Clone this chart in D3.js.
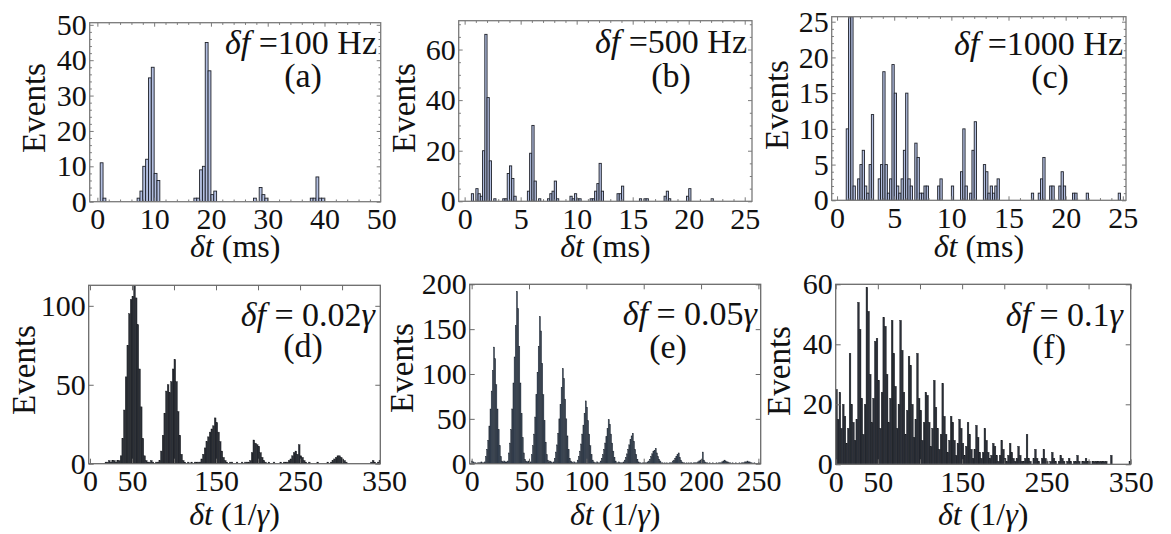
<!DOCTYPE html>
<html lang="en">

<head>
	<title>Events histograms</title>
	<meta charset="utf-8">
	<script src="https://d3js.org/d3.v7.min.js"></script>
	<style>
		body { margin: 0; background: #fff; }
	</style>
</head>

<body>
	<script>
		// ---- Data ----
		// (a) df = 100 Hz, bins of 0.5 ms
		const aBins = [0.5, 1, 7, 7.5, 8, 8.5, 9, 9.5, 10, 10.5, 17, 17.5, 18, 18.5, 19, 19.5, 20, 20.5,
			27.5, 28.5, 29, 29.5, 37.5, 38, 38.5, 39, 39.5];
		const aCounts = [11, 1, 1, 3, 10, 12, 35, 38, 8, 6, 1, 1, 9, 10, 45, 37, 2, 3,
			1, 4, 2, 1, 1, 1, 7, 1, 1];

		// (b) df = 500 Hz, bins of 0.2 ms
		const bBins = [0.6, 1.0, 1.2, 1.4, 1.6, 1.8, 2.0, 2.2, 2.6, 3.4, 3.6, 3.8, 4.0, 4.2, 4.4,
			5.6, 5.8, 6.0, 6.2, 6.6, 7.4, 7.6, 7.8, 8.0, 8.2, 9.4, 9.6, 9.8, 10.0, 10.2,
			11.2, 11.4, 11.6, 11.8, 12.0, 12.2, 13.6, 13.8, 14.0, 15.6, 16.0, 16.2,
			17.8, 18.0, 18.2, 19.8, 20.0, 22.0];
		const bCounts = [3, 5, 3, 2, 20, 66, 41, 16, 1, 1, 1, 11, 14, 9, 2,
			4, 19, 30, 8, 1, 1, 3, 4, 8, 1, 2, 1, 3, 1, 1,
			1, 1, 4, 7, 15, 4, 3, 3, 6, 1, 1, 1,
			2, 4, 1, 2, 5, 1];

		// (c) df = 1000 Hz, bins of 0.2 ms
		const cBins = [0.8, 1.0, 1.2, 1.4, 1.8, 2.0, 2.2, 2.4, 2.6, 2.8, 3.0,
			3.6, 3.8, 4.0, 4.2, 4.4, 4.6, 4.8, 5.0, 5.2, 5.4, 5.6, 5.8, 6.0, 6.2, 6.4,
			6.8, 7.0, 7.2, 7.4, 7.6, 7.8, 8.8, 9.0, 10.0, 10.8, 11.0, 11.2, 11.6, 11.8, 12.0,
			12.8, 13.0, 13.2, 13.4, 13.6, 13.8, 14.0, 17.0, 17.6, 17.8, 18.0, 18.6, 18.8,
			19.4, 19.6, 19.8, 20.6, 20.8, 21.8, 24.6];
		const cCounts = [10, 27, 27, 2, 3, 5, 7, 2, 1, 5, 12,
			3, 5, 18, 5, 1, 3, 19, 15, 2, 1, 3, 7, 15, 3, 2,
			8, 6, 1, 1, 2, 2, 2, 3, 2, 4, 10, 2, 1, 7, 11,
			5, 4, 1, 2, 1, 2, 3, 1, 1, 3, 6, 2, 2,
			2, 4, 2, 1, 1, 1, 1];

		// (d) df = 0.02 gamma, bins of 2 starting at 0
		const dCounts = [
			0, 0, 0, 0, 0, 0, 0, 0, 0, 1,
			1, 2, 1, 2, 2, 1, 2, 2, 5, 16,
			34, 55, 75, 95, 104, 106, 118, 105, 88, 60,
			36, 16, 5, 2, 1, 1, 2, 1, 0, 1,
			1, 2, 8, 18, 32, 46, 50, 45, 52, 60,
			66, 52, 33, 18, 6, 2, 1, 0, 1, 0,
			1, 0, 1, 1, 1, 1, 3, 6, 10, 14,
			17, 20, 22, 24, 29, 26, 20, 14, 8, 4,
			2, 1, 0, 1, 1, 0, 0, 1, 0, 0,
			1, 0, 1, 1, 1, 2, 7, 15, 13, 12,
			11, 7, 4, 2, 1, 0, 1, 0, 0, 1,
			0, 0, 0, 1, 0, 1, 1, 1, 2, 3,
			5, 7, 8, 6, 12, 5, 4, 2, 1, 0,
			1, 0, 0, 0, 0, 1, 0, 0, 0, 0,
			0, 1, 0, 1, 2, 3, 4, 5, 5, 4,
			3, 2, 1, 0, 0, 0, 0, 0, 0, 0,
			0, 0, 0, 0, 0, 0, 0, 1, 2, 1,
			0, 1, 2];

		// (e) df = 0.05 gamma, bins of 1 starting at 0
		const eCounts = [
			3, 2, 1, 1, 0, 1, 1, 1, 2, 1,
			1, 2, 8, 16, 26, 42, 61, 81, 104, 130,
			117, 88, 61, 38, 20, 8, 3, 2, 3, 2,
			2, 3, 12, 23, 38, 61, 90, 119, 154, 192,
			173, 131, 90, 56, 29, 12, 5, 3, 2, 3,
			2, 2, 10, 20, 33, 52, 77, 102, 131, 164,
			148, 112, 77, 48, 24, 10, 4, 2, 3, 2,
			1, 2, 6, 13, 21, 34, 50, 66, 85, 106,
			95, 72, 50, 31, 16, 6, 3, 2, 1, 2,
			1, 1, 4, 8, 14, 22, 33, 43, 56, 70,
			63, 48, 33, 20, 10, 4, 2, 1, 1, 2,
			1, 1, 3, 6, 10, 16, 23, 30, 39, 49,
			44, 33, 23, 14, 7, 3, 1, 1, 2, 1,
			1, 1, 2, 4, 7, 11, 16, 21, 27, 31,
			34, 25, 16, 10, 5, 2, 1, 1, 0, 1,
			1, 1, 1, 2, 3, 5, 8, 11, 14, 15,
			17, 12, 8, 5, 3, 1, 1, 0, 1, 0,
			1, 0, 1, 1, 1, 3, 4, 6, 8, 10,
			12, 7, 4, 2, 1, 1, 0, 1, 0, 1,
			0, 1, 0, 1, 1, 1, 1, 2, 3, 4,
			5, 13, 4, 2, 1, 1, 0, 1, 0, 0,
			1, 0, 0, 1, 0, 1, 1, 1, 2, 3,
			4, 3, 2, 2, 1, 1, 0, 1, 0, 0,
			1, 0, 0, 1, 0, 1, 1, 1, 2, 2,
			3, 2, 2, 1, 1, 0, 1, 0, 0, 0,
			1, 0];

		// (f) df = 0.1 gamma, bins of 2 starting at 0
		const fCounts = [
			25, 15, 24, 12, 20, 16, 7, 12, 37, 20,
			14, 8, 15, 54, 45, 22, 10, 20, 59, 51,
			30, 14, 22, 41, 42, 28, 12, 24, 49, 46,
			30, 14, 22, 48, 37, 26, 12, 20, 48, 38,
			24, 10, 18, 36, 33, 20, 9, 15, 37, 22,
			18, 8, 14, 24, 23, 14, 6, 12, 28, 19,
			12, 5, 10, 27, 16, 10, 4, 8, 16, 14,
			8, 3, 7, 15, 12, 7, 3, 6, 14, 10,
			5, 2, 5, 13, 9, 4, 2, 4, 12, 8,
			4, 2, 3, 7, 6, 3, 1, 3, 8, 5,
			2, 1, 3, 7, 4, 2, 1, 2, 6, 3,
			1, 1, 2, 10, 2, 1, 0, 2, 5, 2,
			1, 0, 2, 5, 2, 1, 0, 1, 4, 2,
			1, 0, 1, 3, 2, 1, 0, 1, 2, 1,
			0, 1, 1, 3, 1, 0, 1, 1, 2, 1,
			1, 0, 1, 1, 1, 1, 1, 1, 1, 1,
			1, 0, 0, 3, 0, 0, 0, 0, 0, 0,
			0, 0, 0, 0, 1];

		// Tick values
		const aXTicks = [0, 10, 20, 30, 40, 50];
		const aYTicks = [0, 10, 20, 30, 40, 50];
		const bXTicks = [0, 5, 10, 15, 20, 25];
		const bYTicks = [0, 20, 40, 60];
		const cXTicks = [0, 5, 10, 15, 20, 25];
		const cYTicks = [0, 5, 10, 15, 20, 25];
		const dXTicks = [0, 50, 100, 150, 200, 250, 300, 350];
		const dXLabels = [0, 50, 150, 250, 350];
		const dYTicks = [0, 50, 100];
		const eXTicks = [0, 50, 100, 150, 200, 250];
		const eYTicks = [0, 50, 100, 150, 200];
		const fXTicks = [0, 50, 100, 150, 200, 250, 300, 350];
		const fXLabels = [0, 50, 150, 250, 350];
		const fYTicks = [0, 20, 40, 60];

		// ---- Layout ----
		const FONT = '"Liberation Serif", "Times New Roman", Times, serif';
		const svg = d3.select("body").append("svg")
			.attr("width", 1171)
			.attr("height", 534)
			.style("font-family", FONT);

		const topStyle = { fill: "#b3bfe1", stroke: "#1f222a", strokeWidth: 0.9, frame: "#7a7a7a", major: 4, minor: 2.2 };

		const panels = [
			{
				id: "a", bins: aBins.map((x, i) => ({ x, n: aCounts[i] })), binWidth: 0.5,
				left: 89.7, right: 380.7, top: 22.7, bottom: 201.7,
				xDomain: [-1.35, 49.9], yDomain: [0, 50.6],
				xTicks: aXTicks, yTicks: aYTicks, xMinor: d3.range(0, 51, 2), yMinor: d3.range(0, 51, 2),
				style: topStyle, unit: "ms", label: ["δf", " =100 Hz", ""], tag: "(a)",
				annot: [377, 54], tagPos: [303, 87], events: [45, 108], xLabelY: 257
			},
			{
				id: "b", bins: bBins.map((x, i) => ({ x, n: bCounts[i] })), binWidth: 0.2,
				left: 458.7, right: 752, top: 20.7, bottom: 201.3,
				xDomain: [-0.53, 25.65], yDomain: [0, 71.4],
				xTicks: bXTicks, yTicks: bYTicks, xMinor: d3.range(0, 26, 1), yMinor: d3.range(0, 71, 5),
				style: topStyle, unit: "ms", label: ["δf", " =500 Hz", ""], tag: "(b)",
				annot: [747, 53], tagPos: [671, 87], events: [415, 108], xLabelY: 257
			},
			{
				id: "c", bins: cBins.map((x, i) => ({ x, n: cCounts[i] })), binWidth: 0.2,
				left: 831.7, right: 1126, top: 16.7, bottom: 200.3,
				xDomain: [-0.47, 25.28], yDomain: [0, 25.7],
				xTicks: cXTicks, yTicks: cYTicks, xMinor: d3.range(0, 26, 1), yMinor: d3.range(0, 26, 1),
				style: topStyle, unit: "ms", label: ["δf", " =1000 Hz", ""], tag: "(c)",
				annot: [1123, 55], tagPos: [1050, 88], events: [788, 105], xLabelY: 257
			},
			{
				id: "d", bins: dCounts.map((n, i) => ({ x: i * 2, n })), binWidth: 2,
				left: 88.7, right: 380.3, top: 285.3, bottom: 463.7,
				xDomain: [-1.5, 345.5], yDomain: [0, 113],
				xTicks: dXTicks, xLabels: dXLabels, yTicks: dYTicks,
				style: { fill: "#2b2f37", stroke: "#15171b", strokeWidth: 0.4, frame: "#6a6a6a", major: 5 },
				unit: "gamma", label: ["δf", " = 0.02", "γ"], tag: "(d)",
				annot: [375, 326], tagPos: [303, 357], events: [35, 370], xLabelY: 525
			},
			{
				id: "e", bins: eCounts.map((n, i) => ({ x: i, n })), binWidth: 1,
				left: 469.7, right: 760.7, top: 284.3, bottom: 463.7,
				xDomain: [-1.7, 252], yDomain: [0, 200],
				xTicks: eXTicks, yTicks: eYTicks,
				style: { fill: "#3a4758", stroke: "#1f2630", strokeWidth: 0.4, frame: "#6a6a6a", major: 5 },
				unit: "gamma", label: ["δf", " = 0.05", "γ"], tag: "(e)",
				annot: [757, 325], tagPos: [668, 358], events: [413, 368], xLabelY: 525
			},
			{
				id: "f", bins: fCounts.map((n, i) => ({ x: i * 2, n })), binWidth: 2,
				left: 835.7, right: 1130.7, top: 284.3, bottom: 464.3,
				xDomain: [0, 350], yDomain: [0, 60],
				xTicks: fXTicks, xLabels: fXLabels, yTicks: fYTicks,
				style: { fill: "#2a2f38", stroke: "#14161a", strokeWidth: 0.4, frame: "#6a6a6a", major: 5 },
				unit: "gamma", label: ["δf", " = 0.1", "γ"], tag: "(f)",
				annot: [1123, 326], tagPos: [1049, 358], events: [790, 371], xLabelY: 525
			}
		];

		function styleAxis(g, color) {
			g.attr("font-family", FONT).attr("font-size", 30);
			g.select(".domain").remove();
			g.selectAll("line").attr("stroke", color).attr("stroke-width", 1);
			g.selectAll("text").attr("fill", "#111");
		}

		function drawPanel(p) {
			const s = p.style;
			const x = d3.scaleLinear().domain(p.xDomain).range([p.left, p.right]);
			const y = d3.scaleLinear().domain(p.yDomain).range([p.bottom, p.top]).clamp(true);
			const inX = v => v >= p.xDomain[0] - 1e-6 && v <= p.xDomain[1] + 1e-6;
			const inY = v => v >= p.yDomain[0] - 1e-6 && v <= p.yDomain[1] + 1e-6;
			const g = svg.append("g");

			// Draw data
			g.append("clipPath").attr("id", "clip-" + p.id)
				.append("rect")
				.attr("x", p.left).attr("y", p.top)
				.attr("width", p.right - p.left).attr("height", p.bottom - p.top);

			g.append("g")
				.attr("clip-path", `url(#clip-${p.id})`)
				.selectAll("rect")
				.data(p.bins.filter(d => d.n > 0))
				.join("rect")
				.attr("x", d => x(d.x))
				.attr("width", d => x(d.x + p.binWidth) - x(d.x))
				.attr("y", d => y(d.n))
				.attr("height", d => y(0) - y(d.n))
				.attr("fill", s.fill)
				.attr("stroke", s.stroke)
				.attr("stroke-width", s.strokeWidth);

			// Draw peripherals: ticks on all four sides, pointing inward
			const labels = p.xLabels || p.xTicks;
			const bottom = g.append("g")
				.attr("transform", `translate(0,${p.bottom})`)
				.call(d3.axisBottom(x).tickValues(p.xTicks).tickSize(-s.major).tickPadding(6)
					.tickFormat(d => labels.includes(d) ? d : ""));
			styleAxis(bottom, s.frame);
			bottom.selectAll(".tick").filter(d => !inX(d)).select("line").remove();

			const left = g.append("g")
				.attr("transform", `translate(${p.left},0)`)
				.call(d3.axisLeft(y).tickValues(p.yTicks).tickSize(-s.major).tickPadding(3));
			styleAxis(left, s.frame);

			g.append("g")
				.attr("transform", `translate(0,${p.top})`)
				.call(d3.axisTop(x).tickValues(p.xTicks.filter(inX)).tickSize(-s.major).tickFormat(""))
				.call(a => styleAxis(a, s.frame));

			g.append("g")
				.attr("transform", `translate(${p.right},0)`)
				.call(d3.axisRight(y).tickValues(p.yTicks.filter(inY)).tickSize(-s.major).tickFormat(""))
				.call(a => styleAxis(a, s.frame));

			if (p.xMinor) {
				const xm = p.xMinor.filter(v => inX(v) && !p.xTicks.includes(v));
				const ym = p.yMinor.filter(v => inY(v) && !p.yTicks.includes(v));
				g.append("g").attr("transform", `translate(0,${p.bottom})`)
					.call(d3.axisBottom(x).tickValues(xm).tickSize(-s.minor).tickFormat(""))
					.call(a => styleAxis(a, s.frame));
				g.append("g").attr("transform", `translate(0,${p.top})`)
					.call(d3.axisTop(x).tickValues(xm).tickSize(-s.minor).tickFormat(""))
					.call(a => styleAxis(a, s.frame));
				g.append("g").attr("transform", `translate(${p.left},0)`)
					.call(d3.axisLeft(y).tickValues(ym).tickSize(-s.minor).tickFormat(""))
					.call(a => styleAxis(a, s.frame));
				g.append("g").attr("transform", `translate(${p.right},0)`)
					.call(d3.axisRight(y).tickValues(ym).tickSize(-s.minor).tickFormat(""))
					.call(a => styleAxis(a, s.frame));
			}

			// Frame
			g.append("rect")
				.attr("x", p.left).attr("y", p.top)
				.attr("width", p.right - p.left).attr("height", p.bottom - p.top)
				.attr("fill", "none")
				.attr("stroke", s.frame)
				.attr("stroke-width", 1.3);

			// Y label
			g.append("text")
				.attr("transform", `translate(${p.events[0]},${p.events[1]}) rotate(-90)`)
				.attr("text-anchor", "middle")
				.attr("font-size", 33)
				.attr("fill", "#111")
				.text("Events");

			// X label
			const xl = g.append("text")
				.attr("x", (p.left + p.right) / 2)
				.attr("y", p.xLabelY)
				.attr("text-anchor", "middle")
				.attr("font-size", 32)
				.attr("fill", "#111");
			xl.append("tspan").attr("font-style", "italic").text("δt");
			if (p.unit === "ms") {
				xl.append("tspan").text(" (ms)");
			} else {
				xl.append("tspan").text(" (1/");
				xl.append("tspan").attr("font-style", "italic").text("γ");
				xl.append("tspan").text(")");
			}

			// Annotation
			const an = g.append("text")
				.attr("x", p.annot[0])
				.attr("y", p.annot[1])
				.attr("text-anchor", "end")
				.attr("font-size", 34)
				.attr("fill", "#111");
			an.append("tspan").attr("font-style", "italic").text(p.label[0]);
			an.append("tspan").text(p.label[1]);
			if (p.label[2]) an.append("tspan").attr("font-style", "italic").text(p.label[2]);

			g.append("text")
				.attr("x", p.tagPos[0])
				.attr("y", p.tagPos[1])
				.attr("text-anchor", "middle")
				.attr("font-size", 34)
				.attr("fill", "#111")
				.text(p.tag);
		}

		panels.forEach(drawPanel);
	</script>
</body>

</html>
